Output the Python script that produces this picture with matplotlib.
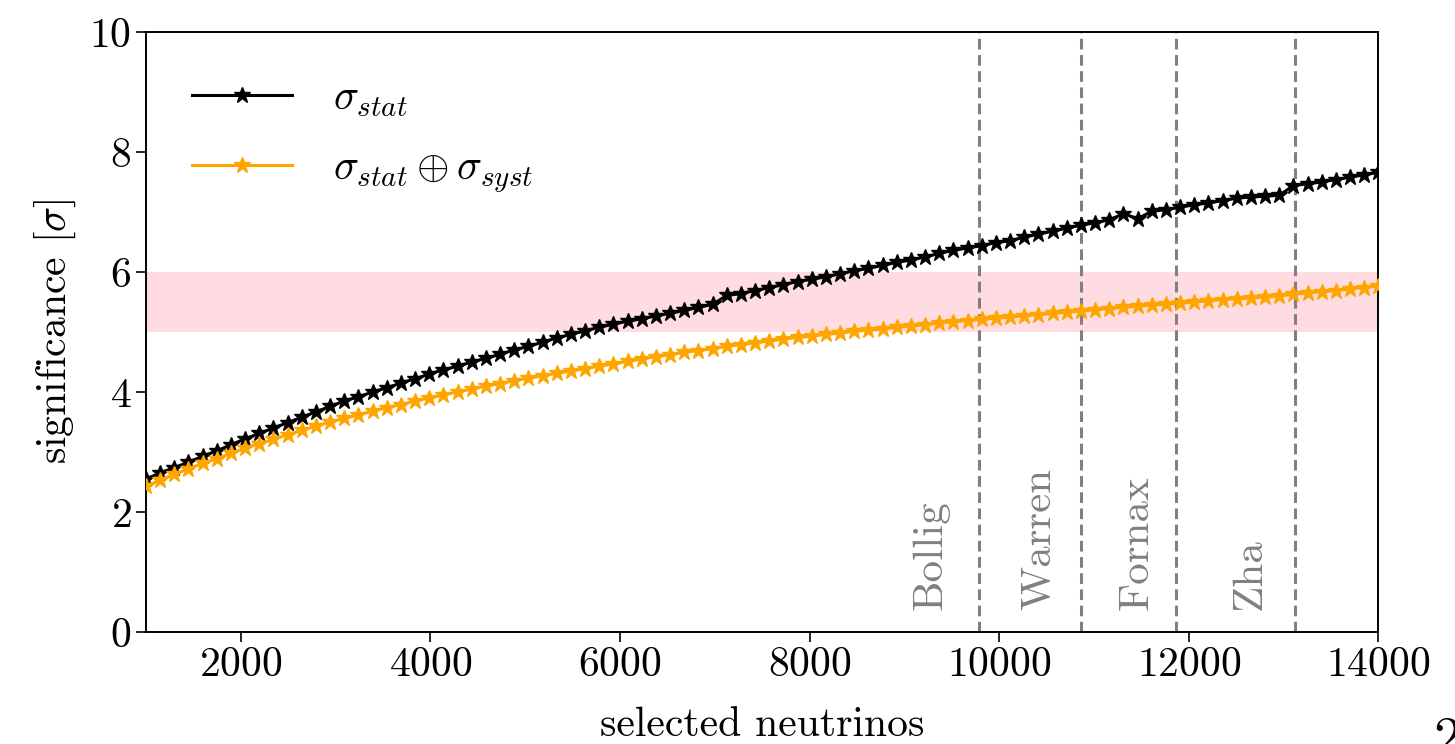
import numpy as np
import matplotlib
matplotlib.use("Agg")
import matplotlib.pyplot as plt

plt.rcParams["font.family"] = ["cmr10", "DejaVu Serif"]
plt.rcParams["mathtext.fontset"] = "cm"
plt.rcParams["axes.formatter.use_mathtext"] = True

# number of selected neutrinos (x grid, 88 steps from 1000 to 14000)
n_selected = np.linspace(1000, 14000, 88)

sig_stat = [
    2.55, 2.65, 2.74, 2.83, 2.93, 3.02, 3.12, 3.22, 3.31, 3.40,
    3.49, 3.58, 3.67, 3.76, 3.85, 3.92, 4.00, 4.07, 4.15, 4.22,
    4.30, 4.37, 4.43, 4.50, 4.56, 4.63, 4.70, 4.76, 4.83, 4.90,
    4.96, 5.02, 5.08, 5.13, 5.18, 5.22, 5.27, 5.31, 5.36, 5.41,
    5.46, 5.61, 5.64, 5.69, 5.74, 5.79, 5.84, 5.88, 5.92, 5.97,
    6.02, 6.06, 6.11, 6.16, 6.20, 6.25, 6.31, 6.36, 6.40, 6.44,
    6.49, 6.52, 6.58, 6.63, 6.68, 6.73, 6.78, 6.82, 6.87, 6.97,
    6.89, 7.01, 7.04, 7.08, 7.12, 7.15, 7.19, 7.23, 7.25, 7.26,
    7.28, 7.44, 7.47, 7.50, 7.54, 7.58, 7.62, 7.66,
]

sig_stat_syst = [
    2.43, 2.53, 2.63, 2.72, 2.81, 2.89, 2.98, 3.06, 3.14, 3.21,
    3.29, 3.36, 3.43, 3.50, 3.56, 3.62, 3.68, 3.74, 3.79, 3.85,
    3.90, 3.95, 4.00, 4.05, 4.10, 4.14, 4.19, 4.23, 4.27, 4.31,
    4.35, 4.39, 4.43, 4.47, 4.51, 4.55, 4.59, 4.62, 4.66, 4.69,
    4.72, 4.76, 4.79, 4.82, 4.85, 4.88, 4.91, 4.93, 4.96, 4.98,
    5.01, 5.03, 5.05, 5.08, 5.10, 5.12, 5.15, 5.17, 5.19, 5.21,
    5.23, 5.25, 5.27, 5.29, 5.31, 5.33, 5.35, 5.37, 5.39, 5.41,
    5.43, 5.45, 5.46, 5.48, 5.50, 5.52, 5.54, 5.55, 5.57, 5.58,
    5.60, 5.63, 5.65, 5.67, 5.69, 5.72, 5.74, 5.77,
]

# supernova models and the neutrino counts they predict
model_names = ["Bollig", "Warren", "Fornax", "Zha"]
model_counts = [9790, 10860, 11860, 13120]

discovery_band = (5, 6)

fig = plt.figure(figsize=(14.55, 7.44), dpi=100)
ax = fig.add_axes([0.1003, 0.1505, 0.8471, 0.8065])

ax.axhspan(*discovery_band, color="pink", alpha=0.55, lw=0, zorder=0)

ax.plot(n_selected, sig_stat, color="black", marker="*", ms=12, lw=2.2,
        label=r"$\sigma_{stat}$", zorder=3)
ax.plot(n_selected, sig_stat_syst, color="orange", marker="*", ms=12, lw=2.2,
        label=r"$\sigma_{stat} \oplus \sigma_{syst}$", zorder=3)

label_shift = [-510, -430, -410, -480]
for name, cnt, dx in zip(model_names, model_counts, label_shift):
    ax.axvline(cnt, color="gray", ls=(0, (3.5, 1.8)), lw=2.2, zorder=2)
    ax.text(cnt + dx, 0.37, name, rotation=90, ha="center", va="bottom",
            color="gray", fontsize=31)

ax.set_xlim(1000, 14000)
ax.set_ylim(0, 10)
ax.set_xticks([2000, 4000, 6000, 8000, 10000, 12000, 14000])
ax.set_yticks([0, 2, 4, 6, 8, 10])
ax.tick_params(labelsize=30, direction="out", length=7, width=1.2)
for sp in ax.spines.values():
    sp.set_linewidth(1.4)

ax.set_xlabel("selected neutrinos", fontsize=30, labelpad=16)
ax.set_ylabel(r"significance [$\sigma$]", fontsize=30, labelpad=8)

ax.legend(loc="upper left", frameon=False, fontsize=30, handlelength=2.4,
          borderaxespad=0.4, labelspacing=0.75, handletextpad=1.0,
          bbox_to_anchor=(0.01, -0.025, 1, 1))

# page number running off the lower edge
fig.text(0.985, -0.03, "2", fontsize=40, fontweight="bold", ha="left", va="bottom")

fig.savefig("out.png", dpi=100)
